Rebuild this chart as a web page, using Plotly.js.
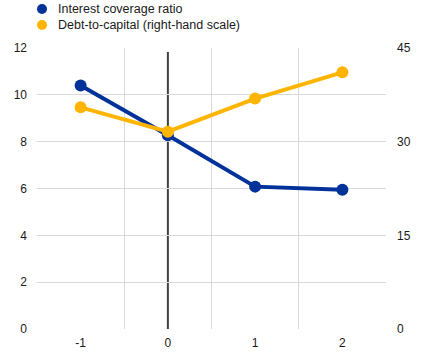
<!DOCTYPE html>
<html><head><meta charset="utf-8">
<script src="https://cdn.plot.ly/plotly-3.0.1.min.js"></script>
<style>html,body{margin:0;padding:0;background:#fff}#c{width:438px;height:356px}</style>
</head><body><div id="c"></div>
<script>
var categories = ['-1', '0', '1', '2'];
var interestCoverage = [10.4, 8.27, 6.08, 5.95];
var debtToCapital = [35.5, 31.6, 36.9, 41.1];
var seriesNames = ['Interest coverage ratio', 'Debt-to-capital (right-hand scale)'];
var leftTicks = [0, 2, 4, 6, 8, 10, 12];
var rightTicks = [0, 15, 30, 45];

var blue = '#003299', yellow = '#FFB400';
var W = 438, H = 356, mL = 37, mR = 52, mT = 48, mB = 27;
var pw = W - mL - mR, ph = H - mT - mB;
function px(x) { return (x - mL) / pw; }
function py(y) { return (H - mB - y) / ph; }

var traces = [
  {x: categories, y: interestCoverage, mode: 'lines+markers', name: seriesNames[0],
   line: {color: blue, width: 4}, marker: {color: blue, size: 12}},
  {x: categories, y: debtToCapital, mode: 'lines+markers', name: seriesNames[1], yaxis: 'y2',
   line: {color: yellow, width: 4}, marker: {color: yellow, size: 12}}
];
var font = {family: 'Liberation Sans, Arial, sans-serif', size: 12, color: '#1a1a1a'};
var legFont = {family: 'Liberation Sans, Arial, sans-serif', size: 12.5, color: '#1a1a1a'};
var legendRows = [9, 25];
var legendColors = [blue, yellow];
var shapes = [{type: 'line', xref: 'x', yref: 'paper', x0: categories.indexOf('0'), x1: categories.indexOf('0'), y0: 0, y1: 0.986,
    line: {color: '#404040', width: 2}, layer: 'below'}];
var annotations = [];
legendRows.forEach(function (ry, i) {
  shapes.push({type: 'circle', xref: 'paper', yref: 'paper', xsizemode: 'pixel', ysizemode: 'pixel',
    xanchor: px(42), yanchor: py(ry), x0: -5, x1: 5, y0: -5, y1: 5,
    fillcolor: legendColors[i], line: {width: 0}});
  annotations.push({xref: 'paper', yref: 'paper', x: px(57), y: py(ry), xanchor: 'left', yanchor: 'middle',
    text: seriesNames[i], showarrow: false, font: legFont, borderpad: 0});
});
var layout = {
  width: W, height: H,
  margin: {l: mL, r: mR, t: mT, b: mB},
  paper_bgcolor: '#fff', plot_bgcolor: '#fff',
  font: font,
  showlegend: false,
  xaxis: {type: 'category', categoryorder: 'array', categoryarray: categories, tickson: 'boundaries',
    showgrid: true, gridcolor: '#d9d9d9', gridwidth: 1, ticks: '', zeroline: false, showline: false,
    tickfont: font, range: [-0.5, 3.5], ticklabelstandoff: 5},
  yaxis: {range: [0, 12], tickvals: leftTicks, showgrid: true, gridcolor: '#d9d9d9', gridwidth: 1,
    zeroline: false, showline: false, ticks: '', tickfont: font, ticklabelstandoff: 9},
  yaxis2: {range: [0, 45], tickvals: rightTicks, overlaying: 'y', side: 'right', showgrid: false,
    zeroline: false, showline: false, ticks: '', tickfont: font, ticklabelstandoff: 10},
  shapes: shapes,
  annotations: annotations
};
Plotly.newPlot('c', traces, layout, {displayModeBar: false, staticPlot: true});
</script></body></html>
